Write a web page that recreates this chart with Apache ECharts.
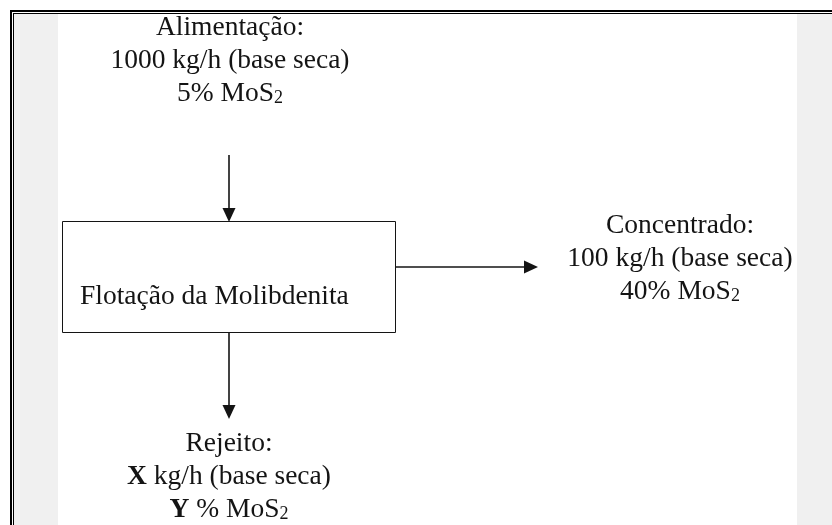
<!DOCTYPE html>
<html lang="pt">
<head>
<meta charset="utf-8"/>
<title>Flotação da Molibdenita</title>
<script src="https://cdn.jsdelivr.net/npm/echarts@6/dist/echarts.min.js"></script>
<style>
    html, body {margin: 0; padding: 0; background: #fff;}
    #chart {width: 832px; height: 525px;}
</style>
</head>
<body>
<div id="chart"></div>
<script>
// textos das correntes
var feedLines = ['Alimentação:', '1000 kg/h (base seca)', '{n|5% MoS}{s|2}'];
var concLines = ['Concentrado:', '100 kg/h (base seca)', '{n|40% MoS}{s|2}'];
var tailLines = ['Rejeito:', '{b|X}{n| kg/h (base seca)}', '{b|Y}{n| % MoS}{s|2}'];
var unitLabel = 'Flotação da Molibdenita';

// posição de cada bloco: centro x, linha de base da 1a linha
var blockAnchors = [[230, 37], [680, 235], [229, 453]];
// setas: x1, y1, x2, y2
var arrowSegs = [[229, 155, 229, 222], [396, 267, 538, 267], [229, 333, 229, 419]];
// caixa: x1, y1, x2, y2 e posição do texto (esquerda, linha de base)
var unitBox = [62.5, 221.5, 395.5, 332.5];
var unitLabelAt = [80, 306];

var blocks = [feedLines, concLines, tailLines];
var INK = '#141414';
var FONT = '"Liberation Serif", "Times New Roman", serif';
var FS = 27.5;
var GAP = 33;
var MID = 9.3; // distancia linha de base -> meio do texto

var rich = {
    n: {fontSize: FS, fontFamily: FONT, lineHeight: FS, fill: INK},
    b: {fontSize: FS, fontFamily: FONT, fontWeight: 'bold', lineHeight: FS, fill: INK},
    s: {fontSize: 18, fontFamily: FONT, lineHeight: 12, verticalAlign: 'bottom', fill: INK}
};

function textEl(t, x, y, align) {
    return {
        type: 'text', x: x, y: y,
        style: {
            text: t, x: 0, y: 0, align: align, verticalAlign: 'middle',
            fill: INK, fontSize: FS, fontFamily: FONT, rich: rich
        }
    };
}

var myChart = echarts.init(document.getElementById('chart'));
var option = {
    animation: false,
    backgroundColor: '#fff',
    grid: {left: 0, right: 0, top: 0, bottom: 0},
    xAxis: {type: 'value', min: 0, max: 832, show: false},
    yAxis: {type: 'value', min: 0, max: 525, inverse: true, show: false},
    // moldura e faixas cinzas
    graphic: [
        {type: 'rect', shape: {x: 14, y: 14, width: 44, height: 511}, style: {fill: '#f0f0f0'}},
        {type: 'rect', shape: {x: 797, y: 14, width: 35, height: 511}, style: {fill: '#f0f0f0'}},
        {type: 'rect', shape: {x: 10, y: 10, width: 822, height: 2}, style: {fill: '#000'}},
        {type: 'rect', shape: {x: 13, y: 13, width: 819, height: 1}, style: {fill: '#000'}},
        {type: 'rect', shape: {x: 10, y: 10, width: 2, height: 515}, style: {fill: '#000'}},
        {type: 'rect', shape: {x: 13, y: 13, width: 1, height: 512}, style: {fill: '#000'}}
    ],
    series: [
        {
            // caixa do processo
            type: 'custom',
            data: [[0, 0]],
            renderItem: function (params, api) {
                var a = api.coord([unitBox[0], unitBox[1]]);
                var b = api.coord([unitBox[2], unitBox[3]]);
                var t = api.coord(unitLabelAt);
                return {
                    type: 'group',
                    children: [
                        {type: 'rect', shape: {x: a[0], y: a[1], width: b[0] - a[0], height: b[1] - a[1]},
                            style: {fill: '#fff', stroke: INK, lineWidth: 1}},
                        textEl(unitLabel, t[0], t[1] - MID, 'left')
                    ]
                };
            }
        },
        {
            // setas
            type: 'custom',
            data: arrowSegs.map(function (s, i) { return [i, 0]; }),
            renderItem: function (params, api) {
                var s = arrowSegs[api.value(0)];
                var p1 = api.coord([s[0], s[1]]);
                var p2 = api.coord([s[2], s[3]]);
                var dx = p2[0] - p1[0], dy = p2[1] - p1[1];
                var len = Math.sqrt(dx * dx + dy * dy);
                var ux = dx / len, uy = dy / len;
                var hl = 14, hw = 6.5;
                var bx = p2[0] - ux * hl, by = p2[1] - uy * hl;
                return {
                    type: 'group',
                    children: [
                        {type: 'line', shape: {x1: p1[0], y1: p1[1], x2: bx, y2: by},
                            style: {stroke: INK, lineWidth: 1.6}},
                        {type: 'polygon', shape: {points: [
                            [p2[0], p2[1]],
                            [bx - uy * hw, by + ux * hw],
                            [bx + uy * hw, by - ux * hw]
                        ]}, style: {fill: INK}}
                    ]
                };
            }
        },
        {
            // blocos de texto das correntes
            type: 'custom',
            data: blocks.map(function (b, i) { return [i, 0]; }),
            renderItem: function (params, api) {
                var i = api.value(0);
                var p = api.coord(blockAnchors[i]);
                return {
                    type: 'group',
                    children: blocks[i].map(function (t, k) {
                        return textEl(t, p[0], p[1] + k * GAP - MID, 'center');
                    })
                };
            }
        }
    ]
};
myChart.setOption(option);
</script>
</body>
</html>
